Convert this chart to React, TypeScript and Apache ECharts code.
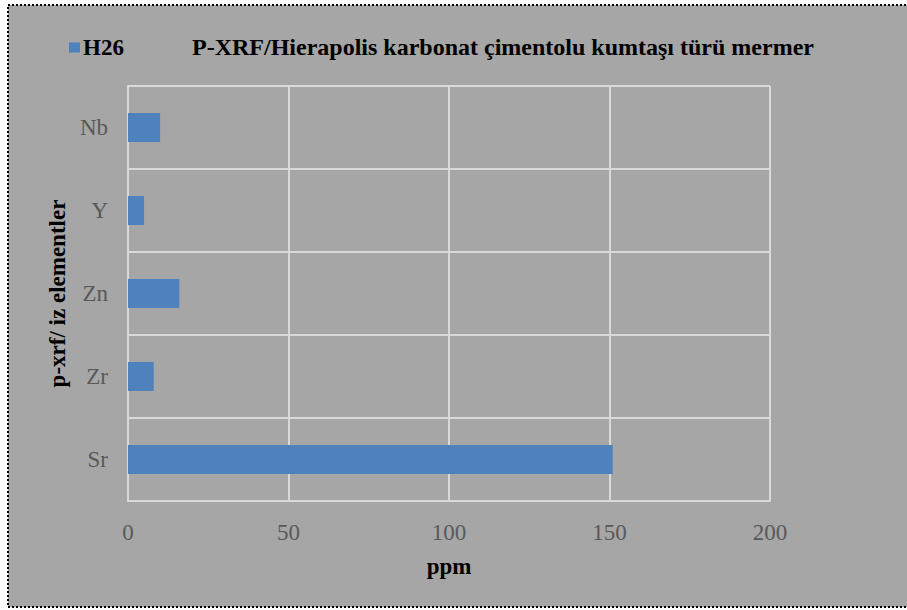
import React, { useEffect, useRef } from "react";
import * as echarts from "echarts";

const categories = ["Sr", "Zr", "Zn", "Y", "Nb"];
const h26Values = [151, 8, 16, 5, 10];
const xTicks = [0, 50, 100, 150, 200];
const seriesName = "H26";
const chartTitle = "P-XRF/Hierapolis karbonat çimentolu kumtaşı türü mermer";
const xAxisTitle = "ppm";
const yAxisTitle = "p-xrf/ iz elementler";

const FONT = "'Liberation Serif', 'Times New Roman', serif";

export default function App() {
  const ref = useRef<HTMLDivElement>(null);
  useEffect(() => {
    if (!ref.current) return;
    const chart = echarts.init(ref.current, null, { renderer: "svg" });
    chart.setOption({
      animation: false,
      backgroundColor: "transparent",
      textStyle: { fontFamily: FONT },
      graphic: [
        {
          type: "rect",
          z: -10,
          silent: true,
          shape: { x: 8, y: 5, width: 1000, height: 602 },
          style: { fill: "#A6A6A6", stroke: "#000", lineWidth: 2, lineDash: [2, 2] },
        },
      ],
      title: {
        text: chartTitle,
        left: 187,
        top: 30,
        textStyle: { fontFamily: FONT, fontWeight: "bold", fontSize: 24, color: "#000" },
      },
      legend: {
        left: 64,
        top: 31,
        itemWidth: 11,
        itemHeight: 10,
        itemGap: 4,
        icon: "rect",
        data: [seriesName],
        textStyle: { fontFamily: FONT, fontWeight: "bold", fontSize: 23, color: "#000", padding: [0, 0, 0, -2] },
      },
      grid: { left: 128, right: 137, top: 86, bottom: 109, containLabel: false },
      xAxis: {
        type: "value",
        min: xTicks[0],
        max: xTicks[xTicks.length - 1],
        interval: 50,
        name: xAxisTitle,
        nameLocation: "middle",
        nameGap: 54,
        nameTextStyle: { fontFamily: FONT, fontWeight: "bold", fontSize: 23, color: "#000" },
        axisLine: { show: true, lineStyle: { color: "#D9D9D9", width: 2 } },
        axisTick: { show: false },
        axisLabel: { fontFamily: FONT, fontSize: 23, color: "#595959", margin: 20 },
        splitLine: { show: true, lineStyle: { color: "#D9D9D9", width: 2 } },
      },
      yAxis: {
        type: "category",
        data: categories,
        name: yAxisTitle,
        nameLocation: "middle",
        nameGap: 58,
        nameTextStyle: { fontFamily: FONT, fontWeight: "bold", fontSize: 23, color: "#000" },
        axisLine: { show: true, lineStyle: { color: "#D9D9D9", width: 2 } },
        axisTick: { show: false },
        axisLabel: { fontFamily: FONT, fontSize: 23, color: "#595959", margin: 20 },
        splitLine: { show: true, lineStyle: { color: "#D9D9D9", width: 2 } },
      },
      series: [
        {
          name: seriesName,
          type: "bar",
          data: h26Values,
          barCategoryGap: "65%",
          itemStyle: { color: "#4F81BD" },
        },
      ],
    });
    return () => chart.dispose();
  }, []);
  return (
    <div
      ref={ref}
      style={{ position: "absolute", left: 0, top: 0, width: 907, height: 610 }}
    />
  );
}
